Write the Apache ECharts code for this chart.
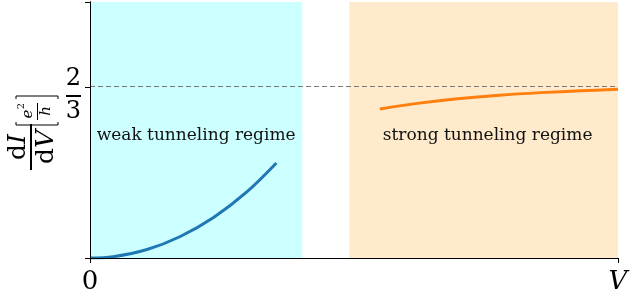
<!DOCTYPE html>
<html>
<head>
<meta charset="utf-8">
<script src="https://cdn.jsdelivr.net/npm/echarts@6/dist/echarts.min.js"></script>
<style>
  html, body { margin: 0; padding: 0; background: #fff; }
  #chart { width: 632px; height: 300px; }
</style>
</head>
<body>
<div id="chart"></div>
<script>
// values (x in units of V_max, y in units of e^2/h)
const weakX = [0, 0.044, 0.108, 0.171, 0.234, 0.297, 0.353];
const weakY = [0, 0.005, 0.033, 0.084, 0.158, 0.258, 0.371];
const strongX = [0.549, 0.62, 0.696, 0.775, 0.854, 0.93, 1.0];
const strongY = [0.582, 0.604, 0.622, 0.636, 0.646, 0.653, 0.659];
const weakRegion = [0, 0.402];
const strongRegion = [0.491, 1];
const regionNames = ['weak tunneling regime', 'strong tunneling regime'];
const plateau = 2 / 3;
const xTicks = [0, 1];
const xTickLabels = ['0', 'V'];
const yTicks = [0, 2 / 3, 1];
const yLabelTicks = [2 / 3];

const serif = '"DejaVu Serif", "Liberation Serif", serif';

const chart = echarts.init(document.getElementById('chart'));

const pair = (xs, ys) => xs.map((x, i) => [x, ys[i]]);

const option = {
  animation: false,
  grid: { left: 90, right: 14, top: 2, bottom: 42 },
  xAxis: [
    {
      type: 'value', min: 0, max: 1, z: 5,
      splitLine: { show: false },
      axisLine: { lineStyle: { color: '#000', width: 1 } },
      axisTick: { inside: false, length: 5, lineStyle: { color: '#000' }, customValues: xTicks },
      axisLabel: {
        customValues: xTicks,
        margin: 11,
        formatter: v => (v === 0 ? '{n|' + xTickLabels[0] + '}' : '{v|' + xTickLabels[1] + '}'),
        rich: {
          n: { fontFamily: serif, fontSize: 26, color: '#000' },
          v: { fontFamily: serif, fontSize: 26, fontStyle: 'italic', color: '#000' }
        }
      }
    },
    {
      type: 'value', min: 0, max: 1, position: 'top', z: 5,
      splitLine: { show: false }, axisTick: { show: false }, axisLabel: { show: false },
      axisLine: { show: true, lineStyle: { color: '#000', width: 1 } }
    }
  ],
  yAxis: [
    {
      type: 'value', min: 0, max: 1, z: 5,
      splitLine: { show: false },
      axisLine: { show: true, lineStyle: { color: '#000', width: 1 } },
      axisTick: { show: true, inside: false, length: 5, lineStyle: { color: '#000' }, customValues: yTicks },
      axisLabel: {
        customValues: yLabelTicks,
        margin: 9,
        padding: [16, 0, 0, 0],
        // the tick sits at 2/3, drawn as a stacked fraction (bar added below)
        formatter: () => '{n|2}\n{n|3}',
        rich: {
          n: { fontFamily: serif, fontSize: 24, lineHeight: 33, align: 'center', color: '#000' }
        }
      }
    },
    {
      type: 'value', min: 0, max: 1, position: 'right', z: 5,
      splitLine: { show: false }, axisTick: { show: false }, axisLabel: { show: false },
      axisLine: { show: true, lineStyle: { color: '#000', width: 1 } }
    }
  ],
  series: [
    {
      type: 'line',
      data: pair(weakX, weakY),
      smooth: 0.35,
      showSymbol: false,
      lineStyle: { color: '#1f77b4', width: 3 },
      z: 3,
      markArea: {
        silent: true,
        itemStyle: { color: '#ccffff' },
        label: {
          position: 'inside', offset: [0, 6],
          fontFamily: serif, fontSize: 17, color: '#111'
        },
        data: [
          [{ name: regionNames[0], xAxis: weakRegion[0] }, { xAxis: weakRegion[1] }]
        ]
      }
    },
    {
      type: 'line',
      data: pair(strongX, strongY),
      smooth: 0.35,
      showSymbol: false,
      lineStyle: { color: '#ff7f0e', width: 3 },
      z: 3,
      markArea: {
        silent: true,
        itemStyle: { color: '#ffebcc' },
        label: {
          position: 'inside', offset: [4, 6],
          fontFamily: serif, fontSize: 17, color: '#111'
        },
        data: [
          [{ name: regionNames[1], xAxis: strongRegion[0] }, { xAxis: strongRegion[1] }]
        ]
      },
      markLine: {
        silent: true,
        symbol: 'none',
        label: { show: false },
        lineStyle: { color: '#777', type: [5, 3], width: 1 },
        data: [{ yAxis: plateau }]
      }
    }
  ],
  graphic: [
    // fraction bar of the 2/3 tick label
    { type: 'line', shape: { x1: 66, y1: 96, x2: 81, y2: 96 }, style: { stroke: '#000', lineWidth: 2 } },
    {
      // rotated axis title: dI/dV [e^2/h]
      type: 'group',
      x: 33, y: 132,
      rotation: Math.PI / 2,
      children: [
        {
          type: 'text',
          style: {
            text: '{r|d}{i|I}', x: -15, y: -15, align: 'center', verticalAlign: 'middle',
            rich: {
              r: { fontFamily: serif, fontSize: 25, fill: '#000' },
              i: { fontFamily: serif, fontSize: 25, fontStyle: 'italic', fill: '#000' }
            }
          }
        },
        { type: 'line', shape: { x1: -38, y1: -2, x2: 8, y2: -2 }, style: { stroke: '#000', lineWidth: 2 } },
        {
          type: 'text',
          style: {
            text: '{r|d}{i|V}', x: -15, y: 13, align: 'center', verticalAlign: 'middle',
            rich: {
              r: { fontFamily: serif, fontSize: 25, fill: '#000' },
              i: { fontFamily: serif, fontSize: 25, fontStyle: 'italic', fill: '#000' }
            }
          }
        },
        { type: 'polyline', shape: { points: [[10, -17], [7, -17], [7, 25], [10, 25]] }, style: { stroke: '#000', lineWidth: 1, fill: null } },
        { type: 'text', style: { text: 'e', x: 18, y: -5, align: 'center', verticalAlign: 'middle', font: 'italic 15px ' + serif, fill: '#000' } },
        { type: 'text', style: { text: '2', x: 26, y: -12, align: 'center', verticalAlign: 'middle', font: '10px ' + serif, fill: '#000' } },
        { type: 'line', shape: { x1: 12, y1: 4.5, x2: 29, y2: 4.5 }, style: { stroke: '#000', lineWidth: 1 } },
        { type: 'text', style: { text: 'h', x: 21, y: 13, align: 'center', verticalAlign: 'middle', font: 'italic 15px ' + serif, fill: '#000' } },
        { type: 'polyline', shape: { points: [[33, -17], [36, -17], [36, 25], [33, 25]] }, style: { stroke: '#000', lineWidth: 1, fill: null } }
      ]
    }
  ]
};

chart.setOption(option);
</script>
</body>
</html>
